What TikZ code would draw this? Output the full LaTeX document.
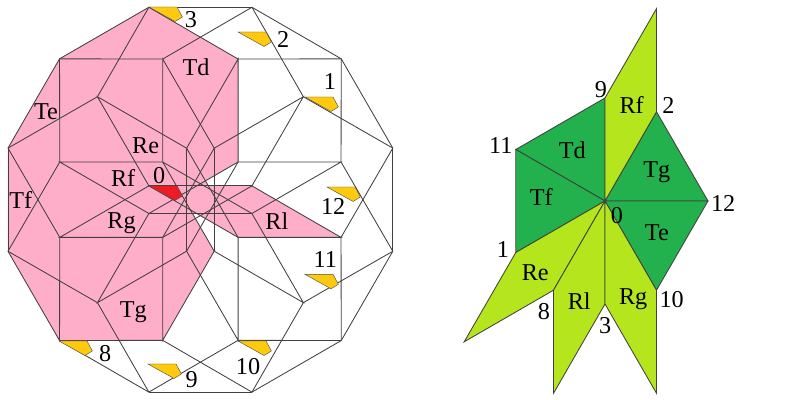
\documentclass[tikz,border=0pt]{standalone}
\usepackage{fontspec}
\setmainfont{Liberation Serif}
\definecolor{pinkarea}{RGB}{255,174,201}
\definecolor{yellowbit}{RGB}{255,201,14}
\definecolor{redbit}{RGB}{237,28,36}
\definecolor{darkgreen}{RGB}{34,177,76}
\definecolor{limegreen}{RGB}{181,230,29}
\tikzset{
  edge/.style={draw=black!75,line width=0.6pt},
  bit/.style={draw=black!70,line width=0.3pt},
  lab/.style={inner sep=0pt,font=\fontsize{17.2}{19}\selectfont},
  tri/.style={edge,fill=darkgreen},
  rhomb/.style={edge,fill=limegreen}
}
\begin{document}
\begin{tikzpicture}
            \useasboundingbox (0,0) rectangle (20,10);

            \coordinate (cen) at (5.01,5.0075);
            \foreach \k in {0,...,11} {
                \pgfmathsetmacro{\ang}{15+30*\k}
                \coordinate (V\k) at ([shift={(\ang:4.98)}]cen);
                \coordinate (Q\k) at ([shift={(\ang:3.64)}]cen);
                \coordinate (I\k) at ([shift={(\ang:1.333)}]cen);
            }
            \coordinate (nookA) at (4.8,4.6625);
            \coordinate (nookB) at (4.9,4.6625);
            \coordinate (nookC) at (5.1875,5.35);
            \coordinate (nookD) at (5.125,5.475);

            \fill[pinkarea] (V3) -- (V4) -- (V5) -- (V6) -- (V7) -- (Q8) -- (I9) -- (nookA) -- (nookB)
                -- (I10) -- (Q11) -- (I0) -- (nookC) -- (nookD) -- (I1) -- (Q2) -- cycle;

            \foreach \k in {0,...,11} {
                \pgfmathtruncatemacro{\nxt}{mod(\k+1,12)}
                \pgfmathtruncatemacro{\prv}{mod(\k+11,12)}
                \pgfmathtruncatemacro{\far}{mod(\k+5,12)}
                \draw[edge] (V\k) -- (V\nxt);
                \draw[edge] (V\prv) -- (Q\k) -- (V\nxt);
                \draw[edge] (I\prv) -- (Q\k) -- (I\nxt);
                \draw[edge] (I\k) -- (I\far);
            }

            \foreach \x/\y in {3.725/9.825,5.95/9.2,7.625/7.575,8.175/5.325,7.625/3.1425,5.95/1.475,3.7/0.9,1.475/1.475}
                \filldraw[bit,fill=yellowbit] (\x,\y) -- ++(0.7,0) -- ++(0.135,-0.25) -- ++(-0.185,-0.1125) -- cycle;
            \filldraw[bit,fill=redbit] (3.725,5.35) -- ++(0.7,0) -- ++(0.135,-0.25) -- ++(-0.185,-0.1125) -- cycle;

            \foreach \nm/\x/\y/\txt in {a3/4.77/9.52/3,a2/7.08/9.02/2,a1/8.25/7.96/1,a12/8.33/4.83/12,a11/8.13/3.5/11,a10/6.2/0.83/10,
                    a9/4.79/0.5/9,a8/2.63/1.15/8,a0/3.98/5.62/0,
                    aRe/3.64/6.36/Re,aRf/3.08/5.56/Rf,aTe/1.15/7.21/Te,aTf/0.52/5/Tf,aRg/3.04/4.43/Rg,aTg/3.33/2.19/Tg,aTd/4.9/8.32/Td,aRl/6.92/4.46/Rl}
                \node[lab] (\nm) at (\x,\y) {\txt};

            \coordinate (o) at (15.125,4.975);
            \foreach \ang in {0,60,90,150,210,240,270,300}
                \coordinate (p\ang) at ([shift={(\ang:2.575)}]o);
            \foreach \ang in {75,225,255,285}
                \coordinate (t\ang) at ([shift={(\ang:4.98)}]o);

            \filldraw[tri] (o) -- (p90) -- (p150) -- cycle;
            \filldraw[tri] (o) -- (p150) -- (p210) -- cycle;
            \filldraw[tri] (o) -- (p60) -- (p0) -- cycle;
            \filldraw[tri] (o) -- (p0) -- (p300) -- cycle;
            \filldraw[rhomb] (o) -- (p90) -- (t75) -- (p60) -- cycle;
            \filldraw[rhomb] (o) -- (p210) -- (t225) -- (p240) -- cycle;
            \filldraw[rhomb] (o) -- (p240) -- (t255) -- (p270) -- cycle;
            \filldraw[rhomb] (o) -- (p270) -- (t285) -- (p300) -- cycle;

            \foreach \nm/\x/\y/\txt in {b9/15.02/7.77/9,b2/16.71/7.36/2,b11/12.52/6.36/11,b12/18.08/4.92/12,b0/15.42/4.61/0,b1/12.57/3.75/1,
                    b8/13.6/2.22/8,b3/15.13/1.87/3,b10/16.79/2.52/10,
                    bRf/15.79/7.38/Rf,bTd/14.31/6.25/Td,bTf/13.53/5.07/Tf,bTg/16.42/5.69/Tg,bTe/16.42/4.17/Te,bRe/13.38/3.19/Re,bRl/14.48/2.47/Rl,bRg/15.83/2.52/Rg}
                \node[lab] (\nm) at (\x,\y) {\txt};
        \end{tikzpicture}
\end{document}
